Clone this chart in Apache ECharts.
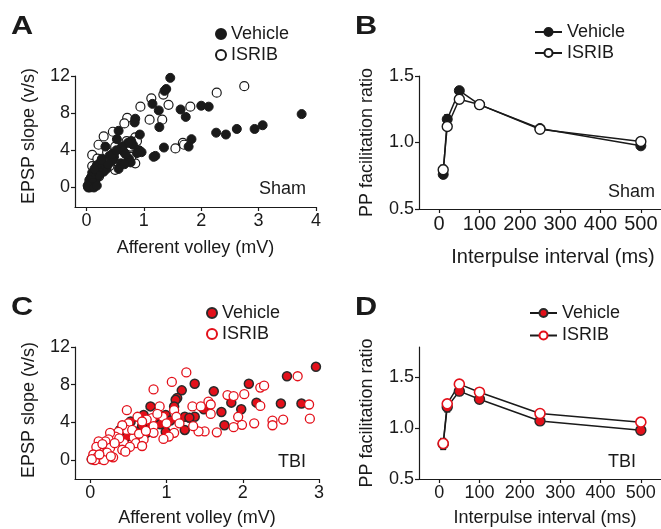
<!DOCTYPE html>
<html><head><meta charset="utf-8">
<script src="https://cdn.jsdelivr.net/npm/echarts@6/dist/echarts.min.js"></script>
<style>html,body{margin:0;padding:0;background:#fff}#c{width:661px;height:529px}</style>
</head><body><div id="c"></div>
<script>
// ---------- data ----------
const shamVehicle = [[1.46,11.8],[1.39,10.6],[1.36,10.4],[1.15,9.0],[1.26,8.3],[1.64,8.4],[1.73,7.6],[2.00,8.8],[2.13,8.7],[3.75,7.9],[2.26,5.9],[2.43,5.7],[2.62,6.3],[2.93,6.3],[3.07,6.7],[1.83,5.2],[1.78,4.4],[1.35,4.3],[1.20,3.4],[1.17,3.3],[1.27,6.5],[0.85,7.4],[0.84,7.0],[0.93,5.7],[0.92,4.0],[0.96,3.8],[0.88,3.7],[0.81,4.6],[0.78,5.0],[0.72,4.8],[0.56,6.1],[0.53,5.2],[0.62,4.4],[0.64,3.9],[0.33,4.4],[0.40,3.4],[0.48,3.3],[0.45,2.9],[0.27,3.1],[0.24,2.6],[0.74,3.1],[0.77,2.7],[0.60,2.6],[0.56,2.0],[0.66,2.5],[0.35,2.0],[0.30,1.7],[0.22,2.2],[0.20,1.8],[0.18,2.4],[0.15,1.5],[0.12,1.2],[0.10,0.9],[0.08,0.6],[0.06,0.4],[0.05,0.2],[0.04,0.1],[0.03,0.0],[0.06,0.0],[0.09,0.1],[0.12,0.3],[0.15,0.6],[0.18,1.0],[0.22,1.3],[0.10,1.6],[0.08,1.1],[0.05,0.8],[0.14,2.0],[0.26,2.9],[0.38,2.5],[0.45,3.6],[0.52,4.0],[0.68,3.6],[0.07,0.3],[0.11,0.5],[0.02,0.2],[0.13,0.0],[0.18,0.2]];
const shamIsrib = [[2.75,10.9],[2.27,10.2],[1.34,10.0],[1.13,9.6],[1.43,8.9],[0.94,8.7],[1.81,8.7],[1.10,7.3],[1.32,7.3],[0.71,7.5],[0.66,6.9],[0.46,6.0],[0.30,5.5],[0.21,4.6],[0.10,3.5],[0.50,4.4],[0.56,3.9],[0.77,4.4],[0.85,5.4],[0.85,2.6],[0.50,1.9],[1.55,4.2],[1.68,4.8],[1.70,4.6],[0.17,2.2],[0.19,3.1],[0.60,3.2],[0.40,2.3],[0.70,5.0],[0.36,3.8],[0.25,2.7],[0.14,1.6],[0.08,1.0],[0.05,0.5],[0.12,0.6],[0.03,0.1],[0.07,0.2],[0.28,2.0],[0.45,3.0],[0.62,4.3],[0.78,3.3],[0.88,5.0],[0.22,1.2],[0.10,2.3],[0.15,0.3]];
const tbiVehicle = [[2.96,9.9],[2.58,8.9],[2.08,8.1],[1.37,8.1],[1.62,7.3],[1.20,7.4],[1.14,6.6],[1.12,6.4],[1.10,5.7],[1.85,6.1],[2.18,6.1],[2.50,6.0],[2.77,6.0],[1.98,5.4],[1.49,5.4],[1.72,5.1],[1.76,3.7],[1.24,4.6],[1.37,4.6],[1.30,4.5],[1.24,3.2],[0.99,4.8],[0.95,4.1],[0.99,3.0],[0.79,5.7],[0.70,4.8],[0.77,3.8],[0.68,3.6],[0.74,2.9],[0.53,4.1],[0.50,3.6],[0.39,3.2],[0.31,2.7],[0.44,2.2],[0.48,2.5],[0.60,3.0],[0.22,1.8],[0.13,1.0],[0.06,0.4],[0.02,0.1],[0.86,4.3],[1.05,4.2],[0.35,2.5],[0.92,3.8]];
const tbiIsrib = [[1.26,9.3],[1.07,8.3],[0.83,7.5],[2.72,8.9],[2.23,7.7],[2.28,7.9],[2.02,7.0],[1.80,6.9],[1.88,6.8],[1.55,6.2],[1.58,5.9],[1.58,4.9],[1.34,5.7],[1.45,5.7],[2.23,5.75],[2.87,5.9],[2.88,4.4],[2.53,4.3],[2.39,4.2],[2.39,3.7],[2.15,3.9],[1.99,3.75],[1.94,4.6],[1.88,3.5],[1.66,2.95],[1.50,3.05],[1.42,3.05],[1.35,3.6],[1.10,2.9],[1.03,2.5],[0.96,2.25],[1.10,5.3],[1.13,4.6],[0.91,5.7],[0.95,4.6],[0.81,4.45],[0.83,3.6],[0.83,2.9],[0.74,4.3],[0.48,5.3],[0.50,3.9],[0.48,3.2],[0.42,3.7],[0.37,3.0],[0.33,2.5],[0.26,2.9],[0.24,2.2],[0.20,2.0],[0.57,2.4],[0.60,1.8],[0.70,2.2],[0.68,1.5],[0.44,1.8],[0.42,1.1],[0.26,1.3],[0.22,0.8],[0.11,2.0],[0.11,1.1],[0.08,1.4],[0.04,0.6],[0.09,0.3],[0.14,0.1],[0.18,0.0],[0.06,0.0],[0.02,0.1],[0.30,0.3],[0.62,4.6],[0.68,4.1],[0.88,4.9],[0.55,3.2],[0.64,2.8],[0.38,2.3],[0.16,1.7],[0.12,0.6],[0.32,1.8],[1.00,3.9],[1.17,3.9],[0.73,3.1],[0.52,1.4],[0.46,0.9],[0.27,0.4]];

const intervals = [10, 20, 50, 100, 250, 500];
const shamPPVehicle = [0.76, 1.175, 1.39, 1.285, 1.105, 0.975];
const shamPPIsrib   = [0.795, 1.12, 1.325, 1.285, 1.10, 1.008];
const tbiPPVehicle  = [0.845, 1.21, 1.365, 1.286, 1.072, 0.98];
const tbiPPIsrib    = [0.85, 1.24, 1.434, 1.355, 1.145, 1.06];
// error bars [x, low, high]
const shamPPErr = [[10, 0.73, 0.83], [20, 1.13, 1.21]];
const tbiPPErr  = [[10, 0.79, 0.90], [20, 1.16, 1.24]];

const scatterXTicks = [0, 1, 2, 3, 4];
const scatterXTicksC = [0, 1, 2, 3];
const scatterYTicks = [0, 4, 8, 12];
const ppXTicks = [0, 100, 200, 300, 400, 500];
const ppYTicks = [0.5, 1.0, 1.5];

// ---------- styles ----------
const FONT = 'Liberation Sans, Arial, sans-serif';
const INK = '#1a1a1a';
const RED = '#e3101a';
const pair = (xs, ys) => xs.map((x, i) => [x, ys[i]]);

function xAx(grid, min, max, ticks, name, gap, fs, pad) {
  return {
    type: 'value', gridIndex: grid, min, max,
    axisLine: {show: true, onZero: false, lineStyle: {color: INK, width: 1.2}},
    axisTick: {show: true, length: 4, customValues: ticks, lineStyle: {color: INK, width: 1.2}},
    axisLabel: {customValues: ticks, color: INK, fontSize: fs, fontFamily: FONT, margin: 5},
    splitLine: {show: false},
    name, nameLocation: 'middle', nameGap: gap,
    nameTextStyle: {color: INK, fontSize: fs, fontFamily: FONT, padding: pad || 0}
  };
}
function yAx(grid, min, max, ticks, name, gap, fs, fmt, pad) {
  return {
    type: 'value', gridIndex: grid, min, max,
    axisLine: {show: true, onZero: false, lineStyle: {color: INK, width: 1.2}},
    axisTick: {show: true, length: 4, customValues: ticks, lineStyle: {color: INK, width: 1.2}},
    axisLabel: {customValues: ticks, color: INK, fontSize: fs, fontFamily: FONT, margin: 5, formatter: fmt},
    splitLine: {show: false},
    name, nameLocation: 'middle', nameGap: gap,
    nameTextStyle: {color: INK, fontSize: fs, fontFamily: FONT, padding: pad || 0}
  };
}
const fmt1 = v => v.toFixed(1);

function errSeries(xi, yi, data) {
  return {
    type: 'custom', xAxisIndex: xi, yAxisIndex: yi, z: 1, silent: true,
    data,
    renderItem: (params, api) => {
      const x = api.value(0);
      const lo = api.coord([x, api.value(1)]);
      const hi = api.coord([x, api.value(2)]);
      const w = 3;
      const st = {stroke: INK, lineWidth: 1.2};
      return {type: 'group', children: [
        {type: 'line', shape: {x1: lo[0], y1: lo[1], x2: hi[0], y2: hi[1]}, style: st},
        {type: 'line', shape: {x1: lo[0]-w, y1: lo[1], x2: lo[0]+w, y2: lo[1]}, style: st},
        {type: 'line', shape: {x1: hi[0]-w, y1: hi[1], x2: hi[0]+w, y2: hi[1]}, style: st}
      ]};
    }
  };
}

const legendBase = (left, top, gap, names, iw) => ({
  left, top, orient: 'vertical', itemGap: gap, itemWidth: iw, itemHeight: 10, padding: 0,
  data: names, selectedMode: false,
  formatter: n => n.split('_')[0],
  textStyle: {color: INK, fontSize: 18, fontFamily: FONT}
});

const letter = (t, left, top) => ({type: 'text', left, top, scaleX: 1.18,
  style: {text: t, fontSize: 26, fontWeight: 'bold', fontFamily: FONT, fill: INK}});
const note = (t, left, top) => ({type: 'text', left, top,
  style: {text: t, fontSize: 18, fontFamily: FONT, fill: INK}});

const option = {
  animation: false,
  textStyle: {fontFamily: FONT},
  grid: [
    {left: 75, top: 76, width: 241, height: 131},
    {left: 419, top: 76, width: 242, height: 133},
    {left: 75, top: 347, width: 244, height: 132},
    {left: 419, top: 347, width: 242, height: 132}
  ],
  xAxis: [
    xAx(0, -0.2, 4, scatterXTicks, 'Afferent volley (mV)', 32, 18),
    xAx(1, -50, 550, ppXTicks, 'Interpulse interval (ms)', 38, 20, [0, 0, 0, 26]),
    xAx(2, -0.2, 3, scatterXTicksC, 'Afferent volley (mV)', 30, 18),
    xAx(3, -50, 550, ppXTicks, 'Interpulse interval (ms)', 30, 18, [0, 0, 0, 10])
  ],
  yAxis: [
    yAx(0, -2.1, 12, scatterYTicks, 'EPSP slope (v/s)', 37, 18, null, [0, 0, 0, 11]),
    yAx(1, 0.5, 1.5, ppYTicks, 'PP facilitation ratio', 43, 18, fmt1),
    yAx(2, -2, 12, scatterYTicks, 'EPSP slope (v/s)', 37, 18, null, [0, 0, 0, 6]),
    yAx(3, 0.5, 1.8, ppYTicks, 'PP facilitation ratio', 43, 18, fmt1)
  ],
  legend: [
    legendBase(215, 25, 3, ['Vehicle_A', 'ISRIB_A'], 10),
    legendBase(534, 23, 3, ['Vehicle_B', 'ISRIB_B'], 27),
    legendBase(206, 304, 3, ['Vehicle_C', 'ISRIB_C'], 10),
    legendBase(529, 304, 4.5, ['Vehicle_D', 'ISRIB_D'], 27)
  ],
  series: [
    {name: 'ISRIB_A', type: 'scatter', xAxisIndex: 0, yAxisIndex: 0, data: shamIsrib, symbolSize: 9,
     itemStyle: {color: '#fff', borderColor: INK, borderWidth: 1.2, opacity: 1}},
    {name: 'Vehicle_A', type: 'scatter', xAxisIndex: 0, yAxisIndex: 0, data: shamVehicle, symbolSize: 9,
     itemStyle: {color: INK, borderColor: INK, borderWidth: 1, opacity: 1}},

    errSeries(1, 1, shamPPErr),
    {name: 'Vehicle_B', type: 'line', xAxisIndex: 1, yAxisIndex: 1, data: pair(intervals, shamPPVehicle),
     symbol: 'circle', symbolSize: 10, lineStyle: {color: INK, width: 1.5},
     itemStyle: {color: INK, borderColor: INK, borderWidth: 1}},
    {name: 'ISRIB_B', type: 'line', xAxisIndex: 1, yAxisIndex: 1, data: pair(intervals, shamPPIsrib),
     symbol: 'circle', symbolSize: 10, lineStyle: {color: INK, width: 1.5},
     itemStyle: {color: '#fff', borderColor: INK, borderWidth: 1.4}},

    {name: 'Vehicle_C', type: 'scatter', xAxisIndex: 2, yAxisIndex: 2, data: tbiVehicle, symbolSize: 9,
     itemStyle: {color: RED, borderColor: '#2a2a2a', borderWidth: 1.5, opacity: 1}},
    {name: 'ISRIB_C', type: 'scatter', xAxisIndex: 2, yAxisIndex: 2, data: tbiIsrib, symbolSize: 9,
     itemStyle: {color: '#fff', borderColor: RED, borderWidth: 1.3, opacity: 1}},

    errSeries(3, 3, tbiPPErr),
    {name: 'Vehicle_D', type: 'line', xAxisIndex: 3, yAxisIndex: 3, data: pair(intervals, tbiPPVehicle),
     symbol: 'circle', symbolSize: 10, lineStyle: {color: INK, width: 1.5},
     itemStyle: {color: RED, borderColor: '#2a2a2a', borderWidth: 1.4}},
    {name: 'ISRIB_D', type: 'line', xAxisIndex: 3, yAxisIndex: 3, data: pair(intervals, tbiPPIsrib),
     symbol: 'circle', symbolSize: 10, lineStyle: {color: INK, width: 1.5},
     itemStyle: {color: '#fff', borderColor: RED, borderWidth: 1.6}}
  ],
  graphic: [
    letter('A', 11, 14), letter('B', 355, 14), letter('C', 11, 295), letter('D', 355, 295),
    note('Sham', 259, 180), note('Sham', 608, 183), note('TBI', 278, 453), note('TBI', 608, 453)
  ]
};
const chart = echarts.init(document.getElementById('c'), null, {renderer: 'canvas'});
chart.setOption(option);
</script></body></html>
